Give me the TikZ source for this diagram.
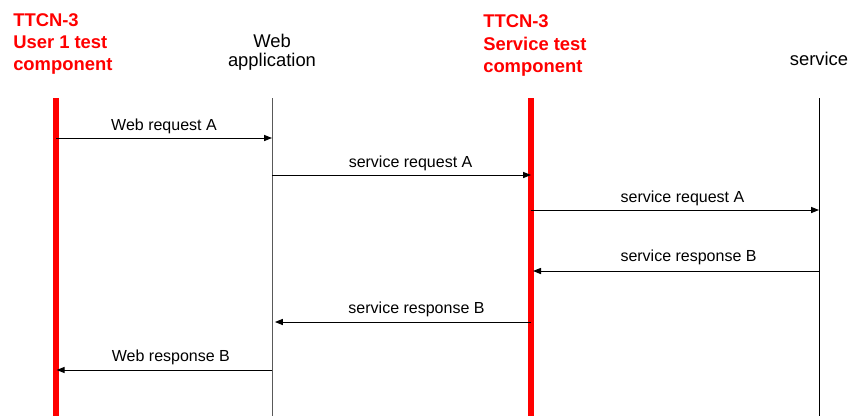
\documentclass[tikz,border=0pt]{standalone}
\usepackage{fontspec}
\setmainfont{Liberation Sans}
\usetikzlibrary{arrows.meta}
\begin{document}
\begin{tikzpicture}[x=0.75pt,y=-0.75pt,
  redhead/.style={anchor=base west,inner sep=0pt,text=red,font=\fontsize{13.8}{16}\selectfont\bfseries},
  plainhead/.style={anchor=base,inner sep=0pt,font=\fontsize{13.8}{16}\selectfont},
  testline/.style={red,line width=4.2pt},
  sutline/.style={line width=0.75pt},
  msg/.style={line width=0.75pt,-{Triangle[length=6pt,width=4.6pt]}},
  msglabel/.style={anchor=base,inner sep=0pt,font=\fontsize{12}{14}\selectfont}]
\useasboundingbox (0,0) rectangle (853,415);

% column headers
\node[redhead] (u1a) at (13,26.5) {TTCN-3};
\node[redhead] (u1b) at (13,48.5) {User 1 test};
\node[redhead] (u1c) at (13,70.7) {component};
\node[plainhead] (waa) at (272,47.3) {Web};
\node[plainhead] (wab) at (272,66.5) {application};
\node[redhead] (sta) at (483,27) {TTCN-3};
\node[redhead] (stb) at (483,50) {Service test};
\node[redhead] (stc) at (483,72.5) {component};
\node[plainhead] (svc) at (819,65) {service};

% lifelines
\coordinate (u1top) at (56,98);   \coordinate (u1bot) at (56,416);
\coordinate (watop) at (272,98);  \coordinate (wabot) at (272,416);
\coordinate (sttop) at (531,98);  \coordinate (stbot) at (531,416);
\coordinate (svtop) at (819,98);  \coordinate (svbot) at (819,416);
\draw[testline] (u1top) -- (u1bot);
\draw[sutline,black!65] (watop) -- (wabot);
\draw[testline] (sttop) -- (stbot);
\draw[sutline] (svtop) -- (svbot);

% message end points
\coordinate (m1s) at (56,138);  \coordinate (m1e) at (272,138);
\coordinate (m2s) at (272,175); \coordinate (m2e) at (531,175);
\coordinate (m3s) at (531,210); \coordinate (m3e) at (819,210);
\coordinate (m4s) at (819,271); \coordinate (m4e) at (531,271);
\coordinate (m5s) at (531,322); \coordinate (m5e) at (272,322);
\coordinate (m6s) at (272,370); \coordinate (m6e) at (56,370);

% messages
\draw[msg] (m1s) -- (m1e) node[msglabel,pos=0.5,yshift=5.6pt] (l1) {Web request A};
\draw[msg] (m2s) -- (m2e) node[msglabel,pos=0.535,yshift=6pt] (l2) {service request A};
\draw[msg] (m3s) -- (m3e) node[msglabel,pos=0.526,yshift=6pt] (l3) {service request A};
\draw[msg,shorten >=1.5pt] (m4s) -- (m4e) node[msglabel,pos=0.453,yshift=7pt] (l4) {service response B};
\draw[msg,shorten >=2.2pt] (m5s) -- (m5e) node[msglabel,pos=0.442,yshift=6.5pt] (l5) {service response B};
\draw[msg,shorten >=0.5pt] (m6s) -- (m6e) node[msglabel,pos=0.468,yshift=6.3pt] (l6) {Web response B};
\end{tikzpicture}
\end{document}
